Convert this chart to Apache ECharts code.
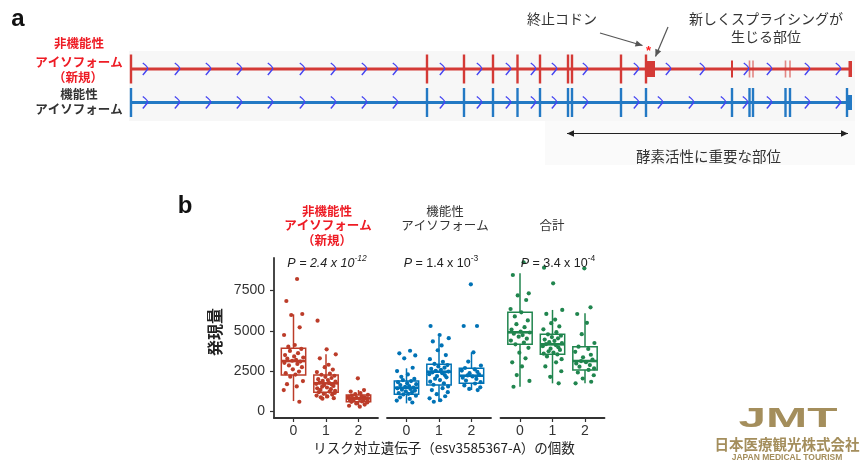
<!DOCTYPE html>
<html><head><meta charset="utf-8">
<script src="https://cdn.jsdelivr.net/npm/echarts@6/dist/echarts.min.js"></script>
<style>html,body{margin:0;padding:0;background:#fff}#c{width:865px;height:462px}</style>
</head><body><div id="c"></div>
<script>
// ---------------- Panel a data (gene model, arbitrary position units) ----------------
const isoforms = ['非機能性', '機能性'];
const geneEnd = 721;
const nonfuncCodingBounds = [0, 296, 333, 362, 386.5, 409, 437, 441, 490, 515];
const nonfuncUtrBounds = [601];
const nonfuncUtrFaintBounds = [618.5, 622, 654.5, 659];
const nonfuncBlocks = [[515, 524], [717.5, 721]];
const funcBounds = [0, 296, 333, 362, 386.5, 409, 437, 441, 490, 515, 601, 618.5, 622, 654.5, 659, 716];
const funcBlocks = [[716, 721]];
const nonfuncChevrons = [14, 46, 77, 108, 139, 171, 202, 233, 264, 311, 348, 377, 402, 423, 454, 505, 537, 571, 615, 638, 676, 707];
const funcChevrons = [14, 46, 77, 108, 139, 171, 202, 233, 264, 311, 348, 377, 402, 423, 454, 505, 529, 560, 592, 614, 638, 676, 707];
const stopCodonPos = 516.5;
const novelSplicePos = 525;
const enzymeRegion = [436, 717];

// ---------------- Panel b data ----------------
const alleleCounts = ['0', '1', '2'];
const yTicks = [0, 2500, 5000, 7500];
// box stats: [lower whisker, Q1, median, Q3, upper whisker]
const nonfuncStats = [[651, 2264, 3132, 3920, 6029], [818, 1190, 1749, 2264, 3548], [298, 608, 818, 1023, 1334]];
const funcStats = [[508, 1067, 1476, 1892, 2680], [608, 1644, 2469, 2928, 4640], [1334, 1749, 2221, 2680, 3672]];
const totalStats = [[1539, 4168, 4913, 6153, 8572], [1749, 3548, 4168, 4789, 6300], [1749, 2574, 3132, 4020, 6091]];
const nonfuncPoints = [
  [8219, 6854, 6047, 5985, 5223, 4745, 4125, 4020, 3880, 3760, 3620, 3500, 3420, 3350, 3280, 3200, 3150, 3100, 3020, 2950, 2860, 2750, 2620, 2480, 2380, 2290, 2160, 1892, 1700, 1560, 1334, 608],
  [5633, 3858, 3548, 3300, 2900, 2750, 2600, 2450, 2350, 2280, 2220, 2150, 2080, 2010, 1950, 1900, 1850, 1800, 1760, 1720, 1680, 1640, 1590, 1540, 1490, 1440, 1390, 1340, 1290, 1240, 1200, 1150, 1100, 1050, 990, 940, 880, 830, 800],
  [2059, 1334, 1240, 1150, 1080, 1030, 990, 950, 910, 880, 850, 820, 800, 780, 750, 720, 690, 660, 630, 600, 560, 500, 430, 360, 300]
];
const funcPoints = [
  [3771, 3610, 3480, 3300, 2717, 2512, 2300, 2150, 2020, 1950, 1890, 1820, 1760, 1700, 1640, 1580, 1530, 1480, 1440, 1400, 1350, 1300, 1250, 1200, 1150, 1100, 1060, 980, 880, 780, 680, 560],
  [5304, 4745, 4550, 4350, 4100, 3800, 3500, 3250, 3080, 2950, 2880, 2800, 2720, 2650, 2590, 2530, 2480, 2430, 2380, 2320, 2260, 2200, 2120, 2040, 1950, 1850, 1750, 1660, 1560, 1450, 1330, 1200, 1080, 950, 820, 700, 608],
  [7890, 5304, 5304, 3672, 3100, 2850, 2700, 2620, 2540, 2460, 2380, 2310, 2240, 2180, 2100, 2020, 1920, 1820, 1740, 1620, 1500, 1400, 1334]
];
const totalPoints = [
  [9255, 8467, 7332, 7200, 6916, 6358, 6150, 5900, 5650, 5420, 5230, 5080, 4960, 4900, 4830, 4740, 4640, 4520, 4400, 4280, 4170, 3950, 3650, 3300, 3052, 2800, 2264, 1900, 1539],
  [8920, 7952, 6300, 6050, 5700, 5480, 5280, 5100, 4920, 4790, 4700, 4620, 4540, 4460, 4380, 4300, 4240, 4180, 4120, 4050, 3980, 3900, 3820, 3740, 3660, 3590, 3540, 3420, 3250, 3050, 2800, 2500, 2150, 1749],
  [8882, 6463, 6047, 5500, 4800, 4250, 4020, 3880, 3700, 3520, 3360, 3220, 3130, 3060, 2980, 2880, 2780, 2680, 2580, 2420, 2250, 2050, 1848, 1749]
];
const jitter = [0.11, -0.22, 0.27, -0.07, 0.19, -0.29, 0.04, -0.16, 0.24, -0.11, 0.14, -0.26, 0.02, 0.3, -0.19, 0.08, -0.04, 0.21, -0.28, 0.12, -0.14, 0.26, -0.02, 0.17, -0.24, 0.06, -0.1, 0.29, -0.2, 0.1, -0.3, 0.18, -0.06, 0.23, -0.12, 0.03, -0.27, 0.15, -0.17, 0.28];

// ---------------- styles ----------------
const JP = "'Noto Sans CJK JP', sans-serif";
const LAT = "'Liberation Sans', 'Noto Sans CJK JP', sans-serif";
const RED_A = '#d43a36', BLUE_A = '#2379c4', CHEV = '#4545f2';
const C_NF = '#BC3C29', C_F = '#0072B5', C_T = '#20854E';
const AX = '#333';

const chart = echarts.init(document.getElementById('c'), null, {renderer: 'canvas'});

function tickSeries(data, color, h, w, opacity) {
  return {
    type: 'custom', xAxisIndex: 0, yAxisIndex: 0, z: 4, silent: true,
    data: data,
    encode: {x: 0, y: 1},
    renderItem: (p, api) => {
      const c = api.coord([api.value(0), api.value(1)]);
      return {type: 'rect', shape: {x: c[0] - w / 2, y: c[1] - h / 2, width: w, height: h}, style: {fill: color, opacity: opacity}};
    }
  };
}
function blockSeries(data, color, h) {
  return {
    type: 'custom', xAxisIndex: 0, yAxisIndex: 0, z: 4, silent: true,
    data: data,
    encode: {x: [0, 1], y: 2},
    renderItem: (p, api) => {
      const a = api.coord([api.value(0), api.value(2)]);
      const b = api.coord([api.value(1), api.value(2)]);
      return {type: 'rect', shape: {x: a[0], y: a[1] - h / 2, width: Math.max(b[0] - a[0], 2), height: h}, style: {fill: color}};
    }
  };
}
function chevronSeries(data) {
  return {
    type: 'custom', xAxisIndex: 0, yAxisIndex: 0, z: 5, silent: true,
    data: data,
    encode: {x: 0, y: 1},
    renderItem: (p, api) => {
      const c = api.coord([api.value(0), api.value(1)]);
      return {type: 'path', shape: {pathData: `M${c[0] - 2.2},${c[1] - 6} Q${c[0] + 3.6},${c[1] - 1.5} ${c[0] + 2.6},${c[1]} Q${c[0] + 1.6},${c[1] + 1.5} ${c[0] - 2.2},${c[1] + 6}`},
        style: {stroke: CHEV, lineWidth: 1.4, fill: null}};
    }
  };
}
function lineSeries(row, color) {
  return {type: 'line', xAxisIndex: 0, yAxisIndex: 0, z: 3, silent: true, symbol: 'none',
    data: [[0, row], [geneEnd, row]], lineStyle: {color: color, width: 3}};
}
function boxSeries(stats, idx, color) {
  return {
    type: 'custom', xAxisIndex: idx, yAxisIndex: idx, z: 3, silent: true,
    data: stats.map((s, i) => [i].concat(s)),
    encode: {x: 0, y: [1, 2, 3, 4, 5]},
    renderItem: (p, api) => {
      const x = api.value(0);
      const w = api.size([0.75, 0])[0];
      const pm = api.coord([x, api.value(1)]), p1 = api.coord([x, api.value(2)]),
            pd = api.coord([x, api.value(3)]), p3 = api.coord([x, api.value(4)]),
            px = api.coord([x, api.value(5)]);
      const cx = pm[0];
      const st = {stroke: color, lineWidth: 1.5, fill: null};
      return {type: 'group', children: [
        {type: 'line', shape: {x1: cx, y1: pm[1], x2: cx, y2: p1[1]}, style: st},
        {type: 'line', shape: {x1: cx, y1: p3[1], x2: cx, y2: px[1]}, style: st},
        {type: 'rect', shape: {x: cx - w / 2, y: p3[1], width: w, height: p1[1] - p3[1]}, style: {stroke: color, lineWidth: 1.5, fill: '#fff'}},
        {type: 'line', shape: {x1: cx - w / 2, y1: pd[1], x2: cx + w / 2, y2: pd[1]}, style: {stroke: color, lineWidth: 2.6}}
      ]};
    }
  };
}
function pointSeries(points, idx, color) {
  const data = [];
  points.forEach((vals, c) => vals.forEach((v, i) => data.push([c + jitter[(i + c * 11) % jitter.length], v])));
  return {type: 'scatter', xAxisIndex: idx, yAxisIndex: idx, z: 6, silent: true, symbolSize: 4.2,
    itemStyle: {color: color, opacity: 1}, data: data};
}
const facetX = idx => ({
  gridIndex: idx, type: 'value', min: -0.6, max: 2.6,
  axisLine: {show: true, onZero: false, lineStyle: {color: AX, width: 1.8}},
  axisTick: {show: true, customValues: [0, 1, 2], length: 4, lineStyle: {color: AX, width: 1.2}},
  axisLabel: {show: true, customValues: [0, 1, 2], formatter: v => alleleCounts[Math.round(v)], fontSize: 14, color: AX, fontFamily: LAT, margin: 6},
  splitLine: {show: false}
});
const facetY = (idx, show) => ({
  gridIndex: idx, type: 'value', min: -400, max: 9520, show: show,
  axisLine: {show: true, onZero: false, lineStyle: {color: AX, width: 1.8}},
  axisTick: {show: true, customValues: yTicks, length: 4, lineStyle: {color: AX, width: 1.2}},
  axisLabel: {show: true, customValues: yTicks, formatter: v => String(Math.round(v)), fontSize: 14, color: AX, fontFamily: LAT, margin: 9},
  splitLine: {show: false}
});

const option = {
  animation: false,
  backgroundColor: '#fff',
  grid: [
    {left: 131, top: 52.25, width: 721, height: 67},
    {left: 274, top: 258, width: 104, height: 160},
    {left: 387, top: 258, width: 104, height: 160},
    {left: 500.5, top: 258, width: 104, height: 160}
  ],
  xAxis: [
    {gridIndex: 0, type: 'value', min: 0, max: geneEnd, show: false, splitLine: {show: false}},
    facetX(1), facetX(2), facetX(3)
  ],
  yAxis: [
    {gridIndex: 0, type: 'category', data: isoforms, inverse: true, show: false},
    facetY(1, true), facetY(2, false), facetY(3, false)
  ],
  series: [
    lineSeries(isoforms[0], RED_A),
    lineSeries(isoforms[1], BLUE_A),
    tickSeries(nonfuncCodingBounds.map(v => [v, isoforms[0]]), RED_A, 29, 2.4, 1),
    tickSeries(nonfuncUtrBounds.map(v => [v, isoforms[0]]), RED_A, 17, 2, 1),
    tickSeries(nonfuncUtrFaintBounds.map(v => [v, isoforms[0]]), RED_A, 17, 1.6, 0.6),
    blockSeries(nonfuncBlocks.map(b => [b[0], b[1], isoforms[0]]), RED_A, 16),
    tickSeries(funcBounds.map(v => [v, isoforms[1]]), BLUE_A, 29, 2.4, 1),
    blockSeries(funcBlocks.map(b => [b[0], b[1], isoforms[1]]), BLUE_A, 15),
    chevronSeries(nonfuncChevrons.map(v => [v, isoforms[0]])),
    chevronSeries(funcChevrons.map(v => [v, isoforms[1]])),
    boxSeries(nonfuncStats, 1, C_NF), pointSeries(nonfuncPoints, 1, C_NF),
    boxSeries(funcStats, 2, C_F), pointSeries(funcPoints, 2, C_F),
    boxSeries(totalStats, 3, C_T), pointSeries(totalPoints, 3, C_T)
  ]
};
chart.setOption(option);

// ---------------- annotations ----------------
const gx = v => chart.convertToPixel({xAxisIndex: 0}, v);
function txt(x, y, text, o) {
  o = o || {};
  return {type: 'text', x: x, y: y, z: 10, silent: true, style: Object.assign({
    text: text, fill: '#333', fontSize: 12.5, fontFamily: JP, fontWeight: 'normal', align: 'center', verticalAlign: 'middle'}, o)};
}
function arrow(x1, y1, x2, y2, color, both) {
  const els = [{type: 'line', z: 10, silent: true, shape: {x1, y1, x2, y2}, style: {stroke: color, lineWidth: 1.2}}];
  const head = (xa, ya, xb, yb) => {
    const a = Math.atan2(yb - ya, xb - xa), L = 7, W = 3.2;
    const bx = xb - L * Math.cos(a), by = yb - L * Math.sin(a);
    return {type: 'polygon', z: 10, silent: true, shape: {points: [[xb, yb], [bx + W * Math.sin(a), by - W * Math.cos(a)], [bx - W * Math.sin(a), by + W * Math.cos(a)]]}, style: {fill: color}};
  };
  els.push(head(x1, y1, x2, y2));
  if (both) els.push(head(x2, y2, x1, y1));
  return els;
}
const pRich = {
  i: {fontStyle: 'italic', fontSize: 12.5, fontFamily: LAT, fill: '#222', lineHeight: 16, verticalAlign: 'bottom'},
  n: {fontStyle: 'normal', fontSize: 12.5, fontFamily: LAT, fill: '#222', lineHeight: 16, verticalAlign: 'bottom'},
  si: {fontStyle: 'italic', fontSize: 8.5, fontFamily: LAT, fill: '#222', lineHeight: 10, verticalAlign: 'top'},
  sn: {fontStyle: 'normal', fontSize: 8.5, fontFamily: LAT, fill: '#222', lineHeight: 10, verticalAlign: 'top'}
};
const x0 = gx(0), xEnd = gx(geneEnd);
const stopX = gx(stopCodonPos), spliceX = gx(novelSplicePos);
const enzA = gx(enzymeRegion[0]), enzB = gx(enzymeRegion[1]);
const graphic = [
  {type: 'rect', z: -10, silent: true, shape: {x: x0 - 2, y: 51, width: xEnd - x0 + 5, height: 70}, style: {fill: '#f7f7f7'}},
  {type: 'rect', z: -10, silent: true, shape: {x: 545, y: 121, width: xEnd - 545 + 3, height: 44}, style: {fill: '#fafafa'}},
  txt(18, 19, 'a', {fontSize: 24, fontWeight: 'bold', fontFamily: LAT, fill: '#111'}),
  txt(79, 43.5, '非機能性', {fill: '#ee1c25', fontWeight: 'bold'}),
  txt(79, 62, 'アイソフォーム', {fill: '#ee1c25', fontWeight: 'bold'}),
  txt(78, 77.5, '（新規）', {fill: '#ee1c25', fontWeight: 'bold'}),
  txt(79, 94, '機能性', {fill: '#333', fontWeight: 'bold'}),
  txt(79, 109, 'アイソフォーム', {fill: '#333', fontWeight: 'bold'}),
  txt(562, 19, '終止コドン', {fontSize: 14}),
  txt(766, 18.5, '新しくスプライシングが', {fontSize: 14}),
  txt(766, 37, '生じる部位', {fontSize: 14}),
  ...arrow(600, 33, stopX - 5, 45.5, '#555', false),
  ...arrow(668, 27, spliceX - 0.5, 56.5, '#555', false),
  txt(stopX + 1, 51.5, '*', {fontSize: 13, fontWeight: 'bold', fill: '#ff2020', fontFamily: LAT}),
  ...arrow(enzA, 133.5, enzB, 133.5, '#222', true),
  txt((enzA + enzB) / 2 + 1, 156.5, '酵素活性に重要な部位', {fontSize: 14.5}),
  txt(185, 206, 'b', {fontSize: 24, fontWeight: 'bold', fontFamily: LAT, fill: '#111'}),
  txt(327, 211, '非機能性', {fill: '#ee1c25', fontWeight: 'bold'}),
  txt(328, 225.5, 'アイソフォーム', {fill: '#ee1c25', fontWeight: 'bold'}),
  txt(327, 240, '（新規）', {fill: '#ee1c25', fontWeight: 'bold'}),
  txt(445, 211, '機能性'),
  txt(445, 225, 'アイソフォーム'),
  txt(552, 225, '合計'),
  txt(327, 262, '{i|P = 2.4 x 10}{si|-12}', {rich: pRich}),
  txt(441, 262, '{i|P}{n| = 1.4 x 10}{sn|-3}', {rich: pRich}),
  txt(558, 262, '{i|P}{n| = 3.4 x 10}{sn|-4}', {rich: pRich}),
  {type: 'text', x: 215, y: 332, z: 10, rotation: Math.PI / 2, silent: true,
    style: {text: '発現量', fontSize: 16, fontWeight: 'bold', fontFamily: JP, fill: '#222', align: 'center', verticalAlign: 'middle'}},
  txt(444, 447.5, 'リスク対立遺伝子（esv3585367-A）の個数', {fontSize: 13.5, fill: '#222'}),
  {type: 'text', x: 788, y: 419, z: 10, scaleX: 1.65, scaleY: 0.95, silent: true,
    style: {text: 'JMT', fontSize: 30, fontWeight: 'bold', fontFamily: LAT, fill: '#a48e5c', align: 'center', verticalAlign: 'middle'}},
  txt(787, 444.5, '日本医療観光株式会社', {fontSize: 14.5, fontWeight: 'bold', fill: '#a48e5c'}),
  txt(787, 457.5, 'JAPAN MEDICAL TOURISM', {fontSize: 8.5, fontWeight: 'bold', fill: '#a48e5c', fontFamily: LAT})
];
chart.setOption({graphic: graphic});
</script></body></html>
